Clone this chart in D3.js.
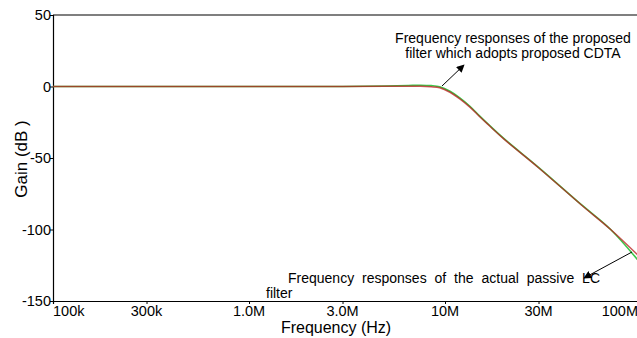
<!DOCTYPE html>
<html>
<head>
<meta charset="utf-8">
<script src="https://cdn.jsdelivr.net/npm/d3@7"></script>
<style>
  body { margin: 0; background: #fff; }
  svg { display: block; font-family: "Liberation Sans", Arial, sans-serif; }
  .tick-label { font-size: 14.5px; fill: #000; }
  .axis-title { font-size: 16px; fill: #000; }
  .note { font-size: 14px; fill: #000; }
</style>
</head>
<body>
<svg id="chart"></svg>
<script>
// frequency points (Hz)
var freqs = [1e5, 1e6, 3e6, 5e6, 6.5e6, 7.5e6, 8.5e6, 9.4e6, 1.06e7, 1.19e7, 1.34e7, 1.5e7, 1.69e7, 2e7, 3e7, 5e7, 7e7, 1e8];
// proposed CDTA filter (green)
var cdtaGain = [0, 0, 0, 0.3, 0.7, 0.9, 0.6, -0.2, -3.3, -7.9, -13.8, -20.5, -27.3, -36.5, -56.5, -83, -100, -124];
// passive LC filter (red)
var lcGain = [0, 0, 0, 0.1, 0.2, 0.2, -0.2, -0.9, -4.0, -8.6, -14.4, -21.0, -27.6, -36.8, -56.8, -83.2, -100, -120];

var xTicks = [1e5, 3e5, 1e6, 3e6, 1e7, 3e7, 1e8];
var xTickLabels = ["100k", "300k", "1.0M", "3.0M", "10M", "30M", "100M"];
var yTicks = [50, 0, -50, -100, -150];

var W = 637, H = 338;
var plotLeft = 53, plotRight = 641, plotTop = 15, plotBottom = 301;

var svg = d3.select("#chart").attr("width", W).attr("height", H);

var x = d3.scaleLog().domain([1e5, 1e8]).range([plotLeft, plotRight]);
var y = d3.scaleLinear().domain([-150, 50]).range([plotBottom, plotTop]);

// arrow head
svg.append("defs").append("marker")
  .attr("id", "arrow")
  .attr("viewBox", "0 0 10 10")
  .attr("refX", 9).attr("refY", 5)
  .attr("markerWidth", 8).attr("markerHeight", 8)
  .attr("markerUnits", "userSpaceOnUse")
  .attr("orient", "auto")
  .append("path")
  .attr("d", "M0,0 L10,5 L0,10 z")
  .attr("fill", "#000");

// frame: top border + axes
svg.append("line")
  .attr("x1", plotLeft).attr("x2", W).attr("y1", plotTop).attr("y2", plotTop)
  .attr("stroke", "#000").attr("stroke-width", 1.2);

var xAxis = svg.append("g")
  .attr("transform", "translate(0," + plotBottom + ")")
  .call(d3.axisBottom(x).tickValues(xTicks).tickSize(3).tickFormat(""));
var yAxis = svg.append("g")
  .attr("transform", "translate(" + plotLeft + ",0)")
  .call(d3.axisLeft(y).tickValues(yTicks).tickSize(3).tickFormat(""));
[xAxis, yAxis].forEach(function(a){
  a.select(".domain").attr("stroke", "#000").attr("stroke-width", 1.2);
  a.selectAll(".tick line").attr("stroke", "#000");
});

// x tick labels (first/last kept inside the window)
svg.selectAll(".xlab")
  .data(xTicks)
  .enter().append("text")
  .attr("class", "tick-label")
  .attr("x", function(d, i){
    if (i === xTicks.length - 1) return W + 1;
    return x(d);
  })
  .attr("y", plotBottom + 15)
  .attr("text-anchor", function(d, i){
    if (i === 0) return "start";
    if (i === xTicks.length - 1) return "end";
    return "middle";
  })
  .text(function(d, i){ return xTickLabels[i]; });

// y tick labels
svg.selectAll(".ylab")
  .data(yTicks)
  .enter().append("text")
  .attr("class", "tick-label")
  .attr("x", plotLeft - 2)
  .attr("y", function(d){ return y(d); })
  .attr("dy", "0.35em")
  .attr("text-anchor", "end")
  .text(function(d){ return d; });

// axis titles
svg.append("text")
  .attr("class", "axis-title")
  .attr("x", 336).attr("y", 333)
  .attr("text-anchor", "middle")
  .text("Frequency (Hz)");
svg.append("text")
  .attr("class", "axis-title")
  .attr("transform", "translate(27,159) rotate(-90)")
  .attr("text-anchor", "middle")
  .style("font-size", "17px")
  .text("Gain (dB )");

// curves
var line = d3.line()
  .x(function(d){ return x(d[0]); })
  .y(function(d){ return y(d[1]); })
  .curve(d3.curveCatmullRom.alpha(0.5));

svg.append("clipPath").attr("id", "plotclip")
  .append("rect").attr("x", plotLeft).attr("y", plotTop)
  .attr("width", plotRight - plotLeft).attr("height", plotBottom - plotTop);

var plot = svg.append("g").attr("clip-path", "url(#plotclip)");
plot.append("path")
  .datum(freqs.map(function(f, i){ return [f, cdtaGain[i]]; }))
  .attr("d", line)
  .attr("fill", "none")
  .attr("stroke", "#3cc84a")
  .attr("stroke-width", 1.6);
plot.append("path")
  .datum(freqs.map(function(f, i){ return [f, lcGain[i]]; }))
  .attr("d", line)
  .attr("fill", "none")
  .attr("stroke", "#b81c1c")
  .attr("stroke-opacity", 0.75)
  .attr("stroke-width", 1.5);

// annotation: proposed filter
svg.append("text").attr("class", "note")
  .attr("x", 513).attr("y", 43).attr("text-anchor", "middle")
  .text("Frequency responses of the proposed");
svg.append("text").attr("class", "note")
  .attr("x", 513).attr("y", 58).attr("text-anchor", "middle")
  .text("filter which adopts proposed CDTA");
svg.append("line")
  .attr("x1", 442).attr("y1", 86).attr("x2", 464).attr("y2", 65)
  .attr("stroke", "#000").attr("stroke-width", 1)
  .attr("marker-end", "url(#arrow)");

// annotation: passive LC filter (justified line)
var lcNote = svg.append("text").attr("class", "note")
  .attr("x", 288).attr("y", 283)
  .text("Frequency responses of the actual passive LC");
var natural = lcNote.node().getComputedTextLength();
lcNote.attr("word-spacing", Math.max(0, (312 - natural) / 6) + "px");
svg.append("text").attr("class", "note")
  .attr("x", 266).attr("y", 298)
  .text("filter");
svg.append("line")
  .attr("x1", 632).attr("y1", 252).attr("x2", 584).attr("y2", 278)
  .attr("stroke", "#000").attr("stroke-width", 1)
  .attr("marker-end", "url(#arrow)");
</script>
</body>
</html>
